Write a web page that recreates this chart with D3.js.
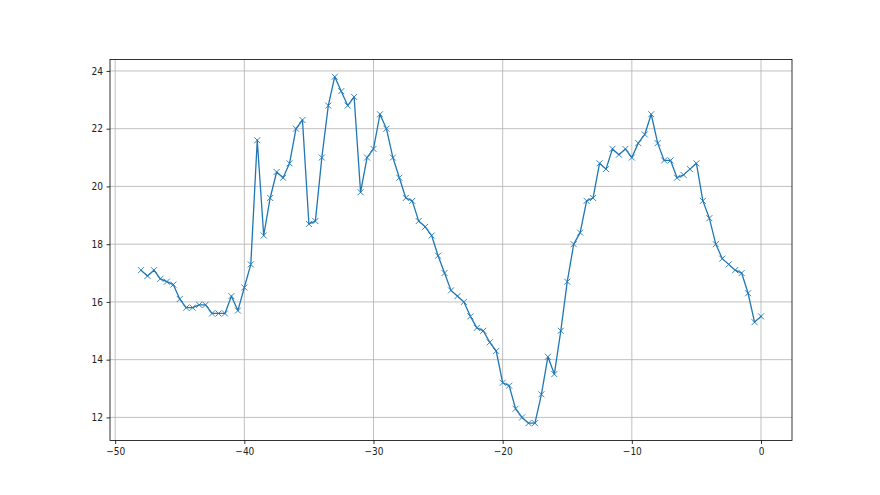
<!DOCTYPE html>
<html>
<head>
<meta charset="utf-8">
<script src="https://cdn.jsdelivr.net/npm/d3@7"></script>
<style>
  html, body { margin: 0; padding: 0; background: #fff; }
  svg { display: block; }
  text { font-family: "Liberation Sans Narrow", "DejaVu Sans Condensed", sans-serif; }
</style>
</head>
<body>
<script>
const xValues = d3.range(-48, 0.001, 0.5).map(v => Math.round(v * 10) / 10);
const yValues = [
  17.1, 16.9, 17.1, 16.8, 16.7, 16.6, 16.1, 15.8, 15.8, 15.9,
  15.9, 15.6, 15.6, 15.6, 16.2, 15.7, 16.5, 17.3, 21.6, 18.3,
  19.6, 20.5, 20.3, 20.8, 22.0, 22.3, 18.7, 18.8, 21.0, 22.8,
  23.8, 23.3, 22.8, 23.1, 19.8, 21.0, 21.3, 22.5, 22.0, 21.0,
  20.3, 19.6, 19.5, 18.8, 18.6, 18.3, 17.6, 17.0, 16.4, 16.2,
  16.0, 15.5, 15.1, 15.0, 14.6, 14.3, 13.2, 13.1, 12.3, 12.0,
  11.8, 11.8, 12.8, 14.1, 13.5, 15.0, 16.7, 18.0, 18.4, 19.5,
  19.6, 20.8, 20.6, 21.3, 21.1, 21.3, 21.0, 21.5, 21.8, 22.5,
  21.5, 20.9, 20.9, 20.3, 20.4, 20.6, 20.8, 19.5, 18.9, 18.0,
  17.5, 17.3, 17.1, 17.0, 16.3, 15.3, 15.5
];
const xTicks = [-50, -40, -30, -20, -10, 0];
const yTicks = [12, 14, 16, 18, 20, 22, 24];

(function () {
const data = xValues.map((x, i) => ({ x, y: yValues[i] }));

const W = 880, H = 495;
const pL = 110, pR = 792, pT = 59.4, pB = 440.5;

const svg = d3.select("body").append("svg").attr("width", W).attr("height", H);

const xMin = d3.min(xValues), xMax = d3.max(xValues);
const yMin = d3.min(yValues), yMax = d3.max(yValues);
const xm = (xMax - xMin) * 0.05, ym = (yMax - yMin) * 0.05;

const x = d3.scaleLinear().domain([xMin - xm, xMax + xm]).range([pL, pR]);
const y = d3.scaleLinear().domain([yMin - ym, yMax + ym]).range([pB, pT]);

const fmt = d => (d < 0 ? "\u2212" + Math.abs(d) : String(d));

// grid
const grid = svg.append("g");
grid.selectAll(".gx").data(xTicks).enter().append("line")
  .attr("x1", d => x(d)).attr("x2", d => x(d))
  .attr("y1", pT).attr("y2", pB)
  .attr("stroke", "#b0b0b0").attr("stroke-width", 0.8);
grid.selectAll(".gy").data(yTicks).enter().append("line")
  .attr("y1", d => y(d)).attr("y2", d => y(d))
  .attr("x1", pL).attr("x2", pR)
  .attr("stroke", "#b0b0b0").attr("stroke-width", 0.8);

// line
const line = d3.line().x(d => x(d.x)).y(d => y(d.y));
svg.append("path").datum(data).attr("d", line)
  .attr("fill", "none").attr("stroke", "#1f77b4").attr("stroke-width", 1.3)
  .attr("stroke-linejoin", "round").attr("stroke-linecap", "square");

// markers
const ms = 3;
svg.append("g").selectAll("path").data(data).enter().append("path")
  .attr("d", d => {
    const cx = x(d.x), cy = y(d.y);
    return `M${cx - ms},${cy - ms}L${cx + ms},${cy + ms}M${cx - ms},${cy + ms}L${cx + ms},${cy - ms}`;
  })
  .attr("stroke", "#1f77b4").attr("stroke-width", 0.9).attr("fill", "none");

// axes
const xAxis = d3.axisBottom(x).tickValues(xTicks).tickFormat(fmt).tickSizeInner(3.5).tickSizeOuter(0).tickPadding(3.5);
const yAxis = d3.axisLeft(y).tickValues(yTicks).tickFormat(fmt).tickSizeInner(3.5).tickSizeOuter(0).tickPadding(3.5);

const gx = svg.append("g").attr("transform", `translate(0,${pB})`).call(xAxis);
const gy = svg.append("g").attr("transform", `translate(${pL},0)`).call(yAxis);
[gx, gy].forEach(g => {
  g.select(".domain").remove();
  g.selectAll(".tick line").attr("stroke", "#000").attr("stroke-width", 0.8);
  g.selectAll(".tick text").attr("fill", "#222").style("font-size", "10px")
    .style("font-family", "'Liberation Sans Narrow', 'DejaVu Sans Condensed', sans-serif");
});

// spines
svg.append("rect").attr("x", pL).attr("y", pT).attr("width", pR - pL).attr("height", pB - pT)
  .attr("fill", "none").attr("stroke", "#000").attr("stroke-width", 0.8);
})();
</script>
</body>
</html>
